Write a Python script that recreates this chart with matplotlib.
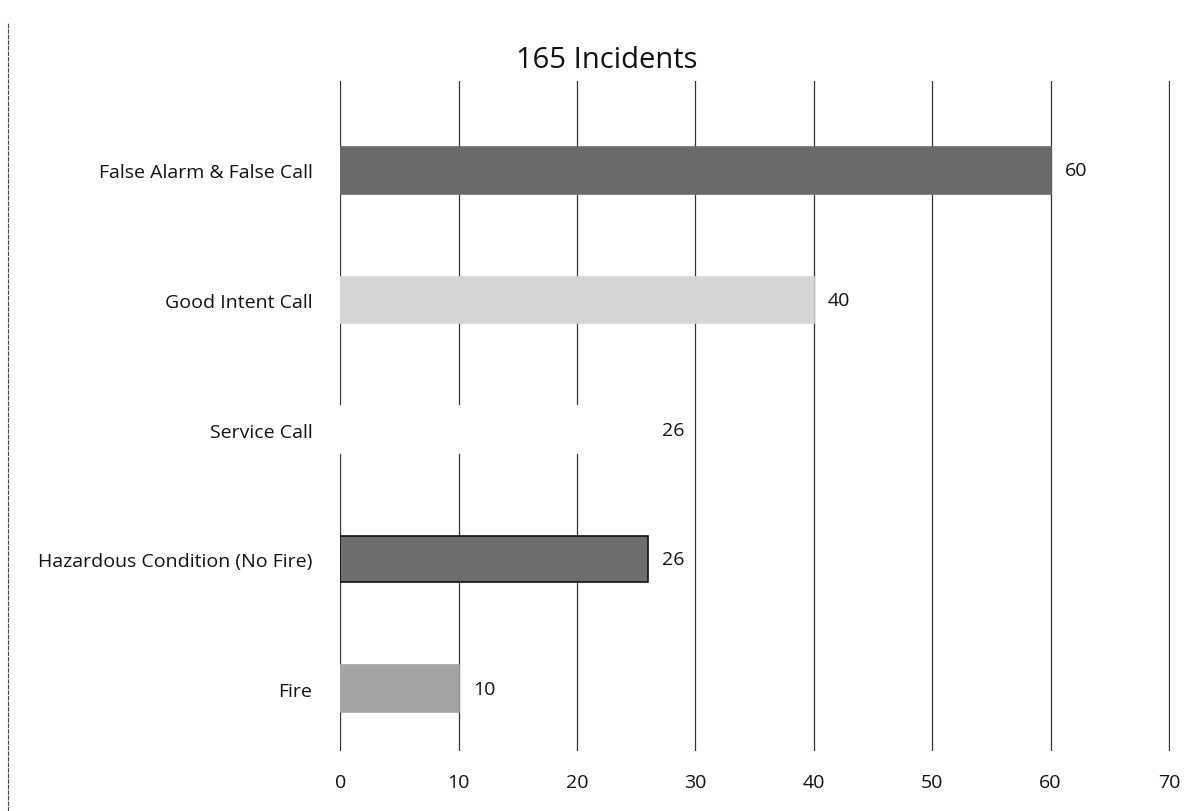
import matplotlib
matplotlib.use("Agg")
import matplotlib.pyplot as plt
from matplotlib.lines import Line2D

categories = ["Fire", "Hazardous Condition (No Fire)", "Service Call",
              "Good Intent Call", "False Alarm & False Call"]
values = [10, 26, 26, 40, 60]
colors = ["#a4a4a4", "#6e6e6e", "#ffffff", "#d6d6d6", "#6a6a6a"]
edges = ["#a4a4a4", "#111111", "#ffffff", "#d6d6d6", "#6a6a6a"]
title = "165 Incidents"
xticks = [0, 10, 20, 30, 40, 50, 60, 70]

plt.rcParams['font.family'] = ['Open Sans', 'DejaVu Sans']
fig = plt.figure(figsize=(12.02, 8.12), dpi=100)
ax = fig.add_axes([0.283, 0.074, 0.69, 0.825])

ypos = list(range(len(categories)))
ax.barh(ypos, values, height=0.36, color=colors, edgecolor=edges, linewidth=1.2, zorder=3)
for y, v in zip(ypos, values):
    ax.text(v + 1.2, y, str(v), va="center", ha="left", fontsize=14, color="#111111", zorder=4)

ax.set_xlim(0, 70.05)
ax.set_ylim(-0.48, 4.69)
ax.set_xticks(xticks)
ax.set_yticks(ypos)
ax.set_yticklabels(categories)
ax.grid(axis="x", color="#333333", linewidth=0.9, zorder=0)
for s in ax.spines.values():
    s.set_visible(False)
ax.tick_params(axis="both", length=0, labelsize=14, colors="#111111")
ax.tick_params(axis="x", pad=16)
ax.tick_params(axis="y", pad=20)

fig.text(0.505, 0.926, title, ha="center", va="center", fontsize=21, color="#111111")
fig.add_artist(Line2D([0.007, 0.007], [0.0, 0.97], transform=fig.transFigure,
                      color="#444444", linewidth=0.8, linestyle=(0, (4, 1))))

fig.savefig("out.png", dpi=100)
